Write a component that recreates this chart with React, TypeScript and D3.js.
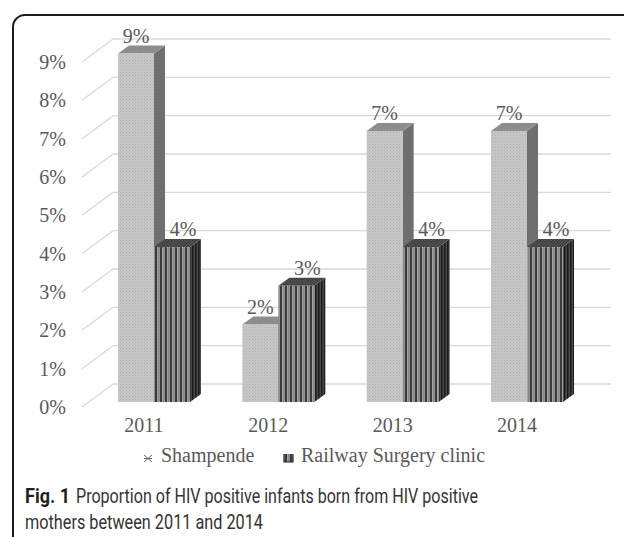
import React from "react";
import * as d3 from "d3";

const years = ["2011", "2012", "2013", "2014"];
const shampende = [9, 2, 7, 7];
const railway = [4, 3, 4, 4];
const yTicks = [0, 1, 2, 3, 4, 5, 6, 7, 8, 9];
const seriesNames = ["Shampende", "Railway Surgery clinic"];
const captionBold = "Fig. 1";
const captionLine1 = "Proportion of HIV positive infants born from HIV positive";
const captionLine2 = "mothers between 2011 and 2014";

const W = 624;
const H = 537;
const serif = "'Liberation Serif', 'Times New Roman', serif";
const sans = "Roboto, 'Open Sans', 'Noto Sans', sans-serif";

export default function App() {
  const xPoint = d3.scalePoint<string>().domain(years).range([154, 527]);
  const yGrid = d3.scaleLinear().domain([0, 9]).range([407, 62]);
  const yBar = d3.scaleLinear().domain([0, 9]).range([402, 53.5]);
  const depthDx = 31, depthDy = -23;
  const capDx = 11, capDy = -8;
  const barW = 36;

  const series = [
    { name: seriesNames[0], values: shampende, front: "url(#pShamFront)", side: "#6f6f6f", top: "#8d8d8d", labelDx: 0, off: -barW },
    { name: seriesNames[1], values: railway, front: "url(#pRailFront)", side: "url(#pRailSide)", top: "url(#pRailTop)", labelDx: 11, off: 0 },
  ];

  return (
    <svg width={W} height={H} style={{ position: "absolute", left: 0, top: 0, background: "#fff" }}>
      <defs>
        <pattern id="pShamFront" width="3" height="3" patternUnits="userSpaceOnUse">
          <rect width="3" height="3" fill="#c8c8c8" />
          <rect x="0" y="0" width="1" height="1" fill="#aeaeae" />
          <rect x="1.5" y="1.5" width="1" height="1" fill="#b6b6b6" />
        </pattern>
        <pattern id="pRailFront" width="5" height="4" patternUnits="userSpaceOnUse">
          <rect width="5" height="4" fill="#a4a4a4" />
          <rect x="0" y="0" width="2" height="4" fill="#3a3a3a" />
          <rect x="3.5" y="0" width="0.8" height="4" fill="#6a6a6a" />
        </pattern>
        <pattern id="pRailSide" width="3" height="4" patternUnits="userSpaceOnUse">
          <rect width="3" height="4" fill="#4a4a4a" />
          <rect x="0" y="0" width="1.5" height="4" fill="#1a1a1a" />
        </pattern>
        <pattern id="pRailTop" width="3" height="3" patternUnits="userSpaceOnUse">
          <rect width="3" height="3" fill="#555" />
          <rect x="0" y="0" width="1.5" height="1.5" fill="#3a3a3a" />
          <rect x="1.5" y="1.5" width="1.5" height="1.5" fill="#3a3a3a" />
        </pattern>
      </defs>

      {/* frame */}
      <path d="M13 537 V27 A12 12 0 0 1 25 15 H624" fill="none" stroke="#1c1c1c" strokeWidth={2} />

      {/* gridlines */}
      <g stroke="#d9d9d9" strokeWidth={1.3} fill="none">
        {yTicks.map((t) => (
          <g key={t}>
            <line x1={82} y1={yGrid(t)} x2={82 + depthDx} y2={yGrid(t) + depthDy} />
            <line x1={82 + depthDx} y1={yGrid(t) + depthDy} x2={611} y2={yGrid(t) + depthDy} />
          </g>
        ))}
      </g>

      {/* y tick labels */}
      <g fontFamily={serif} fontSize={20} fill="#595959" textAnchor="end">
        {yTicks.map((t) => (
          <text key={t} x={66} y={yGrid(t) + 7}>{`${t}%`}</text>
        ))}
      </g>

      {/* bars */}
      {years.map((yr, i) => (
        <g key={yr}>
          {series.map((s) => {
            const x0 = (xPoint(yr) as number) + s.off;
            const x1 = x0 + barW;
            const yTop = yBar(s.values[i]);
            const yBot = yBar(0);
            const top = `M${x0},${yTop} L${x0 + capDx},${yTop + capDy} L${x1 + capDx},${yTop + capDy} L${x1},${yTop} Z`;
            const side = `M${x1},${yTop} L${x1 + capDx},${yTop + capDy} L${x1 + capDx},${yBot + capDy} L${x1},${yBot} Z`;
            return (
              <g key={s.name}>
                <path d={side} fill={s.side} />
                <path d={top} fill={s.top} />
                <rect x={x0} y={yTop} width={barW} height={yBot - yTop} fill={s.front} />
                <text
                  x={(x0 + x1) / 2 + s.labelDx}
                  y={yTop + capDy - 3}
                  textAnchor="middle"
                  fontFamily={serif}
                  fontSize={20}
                  fill="#595959"
                >{`${s.values[i]}%`}</text>
              </g>
            );
          })}
        </g>
      ))}

      {/* x labels */}
      <g fontFamily={serif} fontSize={20} fill="#595959" textAnchor="middle">
        {years.map((yr) => (
          <text key={yr} x={(xPoint(yr) as number) - 10} y={432}>{yr}</text>
        ))}
      </g>

      {/* legend */}
      <g>
        <path d="M144 455 L152 462 M144 462 L152 455 M144 458.5 H152" stroke="#666" strokeWidth={1} fill="none" />
        <text x={161} y={462} fontFamily={serif} fontSize={20} fill="#595959">{seriesNames[0]}</text>
        <rect x={284} y={454} width={9} height={8} fill="url(#pRailFront)" />
        <path d="M284 454 V462 H293 V454" stroke="#222" strokeWidth={1.2} fill="none" />
        <text x={301} y={462} fontFamily={serif} fontSize={20} fill="#595959">{seriesNames[1]}</text>
      </g>

      {/* caption */}
      <text x={25} y={503} fontFamily={sans} fontSize={20} fontWeight="bold" fill="#231f20" textLength={45} lengthAdjust="spacingAndGlyphs">
        {captionBold}
      </text>
      <text x={76} y={503} fontFamily={sans} fontSize={20} fill="#333" textLength={402} lengthAdjust="spacingAndGlyphs">
        {captionLine1}
      </text>
      <text x={25} y={529} fontFamily={sans} fontSize={20} fill="#333" textLength={238} lengthAdjust="spacingAndGlyphs">
        {captionLine2}
      </text>
    </svg>
  );
}
